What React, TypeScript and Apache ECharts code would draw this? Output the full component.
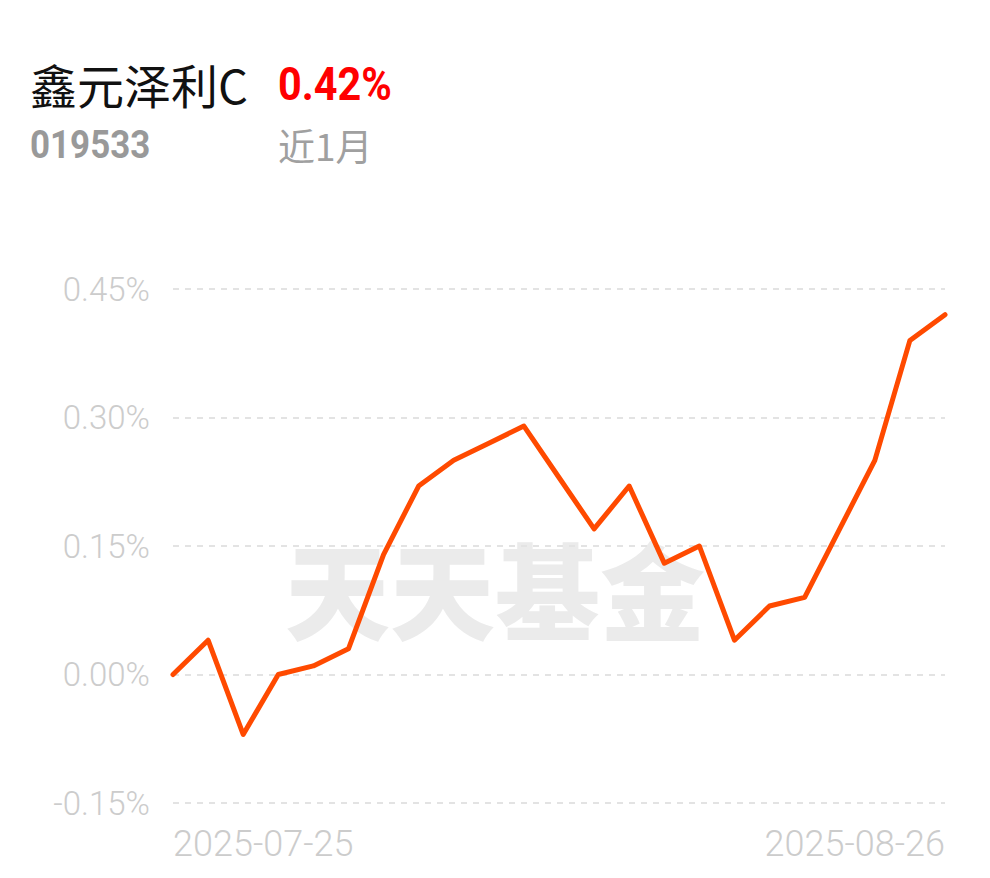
import React, { useEffect, useRef } from "react";
import * as echarts from "echarts";

const dates = [
  "2025-07-25", "2025-07-28", "2025-07-29", "2025-07-30", "2025-07-31",
  "2025-08-01", "2025-08-04", "2025-08-05", "2025-08-06", "2025-08-07",
  "2025-08-08", "2025-08-11", "2025-08-12", "2025-08-13", "2025-08-14",
  "2025-08-15", "2025-08-18", "2025-08-19", "2025-08-20", "2025-08-21",
  "2025-08-22", "2025-08-25", "2025-08-26",
];
const returns = [
  0.0, 0.04, -0.07, 0.0, 0.01, 0.03, 0.14, 0.22, 0.25, 0.27, 0.29, 0.23,
  0.17, 0.22, 0.13, 0.15, 0.04, 0.08, 0.09, 0.17, 0.25, 0.39, 0.42,
];
const fundName = "鑫元泽利C";
const fundCode = "019533";
const periodReturn = "0.42%";
const periodLabel = "近1月";
const watermark = "天天基金";

export default function App() {
  const ref = useRef<HTMLDivElement>(null);
  useEffect(() => {
    document.body.style.margin = "0";
    const chart = echarts.init(ref.current!, null, { renderer: "svg" });
    const last = dates.length - 1;
    chart.setOption({
      animation: false,
      backgroundColor: "#ffffff",
      grid: { left: 173, right: 45, top: 289, bottom: 75, containLabel: false },
      graphic: [
        {
          type: "text",
          z: -10,
          silent: true,
          style: {
            text: watermark,
            x: 285,
            y: 586,
            textVerticalAlign: "middle",
            font: '900 105px "Noto Sans CJK SC"',
            fill: "#ebebeb",
          },
        },
        {
          type: "text",
          style: {
            text: fundName,
            x: 30,
            y: 83,
            textVerticalAlign: "middle",
            font: '400 47px "Noto Sans CJK SC"',
            fill: "#111111",
          },
        },
        {
          type: "text",
          x: 278,
          y: 84,
          scaleX: 0.9,
          style: {
            text: periodReturn,
            x: 0,
            y: 0,
            textVerticalAlign: "middle",
            font: '700 46px Roboto',
            fill: "#ff0000",
          },
        },
        {
          type: "text",
          x: 30,
          y: 145,
          scaleX: 0.92,
          style: {
            text: fundCode,
            x: 0,
            y: 0,
            textVerticalAlign: "middle",
            font: '700 38px Roboto',
            fill: "#999999",
          },
        },
        {
          type: "text",
          style: {
            text: periodLabel,
            x: 278,
            y: 145,
            textVerticalAlign: "middle",
            font: '400 37px "Noto Sans CJK SC"',
            fill: "#a0a0a0",
          },
        },
      ],
      xAxis: {
        type: "category",
        data: dates,
        boundaryGap: false,
        axisLine: { show: false },
        axisTick: { show: false },
        splitLine: { show: false },
        axisLabel: {
          interval: (i: number) => i === 0 || i === last,
          alignMinLabel: "left",
          alignMaxLabel: "right",
          color: "#cccccc",
          fontSize: 36,
          fontWeight: 300,
          fontFamily: "Roboto",
          margin: 23,
        },
      },
      yAxis: {
        type: "value",
        min: -0.15,
        max: 0.45,
        interval: 0.15,
        axisLine: { show: false },
        axisTick: { show: false },
        axisLabel: {
          formatter: (v: number) => v.toFixed(2) + "%",
          color: "#cccccc",
          fontSize: 33,
          fontWeight: 300,
          fontFamily: "Roboto",
          margin: 23,
        },
        splitLine: {
          show: true,
          lineStyle: { color: "#e3e3e3", width: 2, type: [6, 6] },
        },
      },
      series: [
        {
          type: "line",
          data: returns,
          symbol: "none",
          lineStyle: { color: "#ff4a00", width: 5, cap: "round", join: "round" },
          z: 3,
        },
      ],
    });
    return () => chart.dispose();
  }, []);
  return <div ref={ref} style={{ width: 990, height: 878 }} />;
}
